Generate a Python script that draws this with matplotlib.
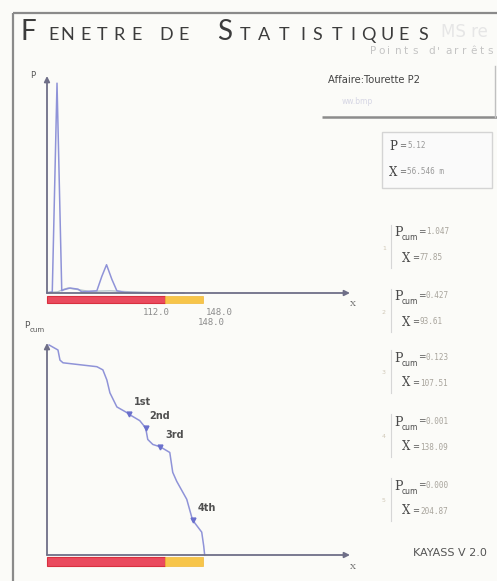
import matplotlib
matplotlib.use('Agg')
import matplotlib.pyplot as plt
from matplotlib.patches import Rectangle

# ---------------- data ----------------
# density curve P(X) (top chart)
p_x = [0, 5.0, 9.5, 14.0, 16.1, 21.8, 29.4, 33.1, 47.3, 52.0, 56.5, 61.5, 66.3, 73.9, 88.0, 112.0]
p_val = [0, 0.2, 38.0, 0.4, 0.6, 0.9, 0.7, 0.2, 0.4, 3.0, 5.12, 2.5, 0.4, 0.1, 0.05, 0]
# faint reference trace near the axis
ref_x = [0, 10, 15, 20, 30, 40, 60, 80, 100, 130]
ref_val = [0.1, 0.2, 0.6, 0.9, 0.6, 0.3, 0.4, 0.2, 0.1, 0.0]

# cumulative curve Pcum(X) in % (bottom chart, log scale)
pc_x = [2.0, 10.4, 12.3, 15.2, 47.3, 53.0, 56.8, 59.7, 66.3, 75.8, 77.85, 88.0, 93.61,
        95.6, 100.4, 107.51, 116.5, 119.3, 123.1, 132.6, 138.09, 146.8, 148.7, 149.6]
pc_val = [100, 72, 37, 31, 24, 19.5, 10, 4.3, 1.7, 1.17, 1.047, 0.69, 0.427,
          0.2, 0.144, 0.123, 0.085, 0.023, 0.0127, 0.0039, 0.001, 0.00045, 0.00018, 0.0001]

# quantile markers
q_labels = ["1st", "2nd", "3rd", "4th"]
q_x = [77.85, 93.61, 107.51, 138.09]
q_p = [1.047, 0.427, 0.123, 0.001]

# zones (red / yellow)
zone_red = (0.0, 112.0)
zone_yellow = (112.0, 148.0)

# side panel values
sel_p = "5.12"
sel_x = "56.546"
side_pcum = ["1.047", "0.427", "0.123", "0.001", "0.000"]
side_x = ["77.85", "93.61", "107.51", "138.09", "204.87"]

X_MAX = 287.5

# ---------------- figure ----------------
W, H = 497, 581
fig = plt.figure(figsize=(W / 100, H / 100), dpi=100)
fig.patch.set_facecolor('#fbfbf8')

bg = fig.add_axes([0, 0, 1, 1])
bg.set_xlim(0, W)
bg.set_ylim(H, 0)
bg.axis('off')
bg.set_zorder(0)

def fx(px):
    return px / W

def fy(py):
    return 1 - py / H

# window border
bg.plot([13, 13], [13, 581], color='#8a8a8a', lw=1.6, solid_capstyle='butt')
bg.plot([13, 497], [13, 13], color='#8a8a8a', lw=1.6, solid_capstyle='butt')

# title in small caps
title_font = 'Lato'
big = [('F', 28), ('S', 225)]
small = [('E', 54), ('N', 67), ('E', 86), ('T', 102), ('R', 119), ('E', 137),
         ('D', 166), ('E', 184),
         ('T', 245), ('A', 264), ('T', 284), ('I', 303), ('S', 317), ('T', 337),
         ('I', 353), ('Q', 368), ('U', 387), ('E', 404), ('S', 423)]
for ch, x in big:
    bg.text(x, 40, ch, fontsize=20, family=title_font, color='#3c3c3c',
            ha='center', va='baseline')
for ch, x in small:
    bg.text(x, 40, ch, fontsize=13, family=title_font, color='#3c3c3c',
            ha='center', va='baseline')

# ghost texts
bg.text(441, 37, "MS re", fontsize=12, color='#e6e6e6', ha='left', va='baseline')
for i, ch in enumerate("Points d'arrêts"):
    bg.text(370 + i * 8.4, 54, ch, fontsize=7.5, color='#c4c4c4', ha='left', va='baseline')

# Affaire box
bg.plot([322, 497], [117, 117], color='#8c8c8c', lw=1.8, solid_capstyle='butt')
bg.plot([495, 495], [66, 117], color='#c0c0c0', lw=1.0)
bg.text(328, 80, "Affaire:Tourette P2", fontsize=7.2, color='#444444',
        family=['Liberation Sans Narrow', 'DejaVu Sans'], ha='left', va='center')
bg.text(342, 101, "ww.bmp", fontsize=5.5, color='#d6d6e4', ha='left', va='center')

# selection box
bg.add_patch(Rectangle((382, 132), 110, 56, facecolor='#fafafa', edgecolor='#d4d4d4', lw=1))
bg.text(389, 146, "P", fontsize=8.5, color='#444444', family='DejaVu Serif', ha='left', va='center')
bg.text(399, 146, "=", fontsize=6, color='#666666', ha='left', va='center')
bg.text(407, 146, sel_p, fontsize=5.5, color='#999999', family='DejaVu Sans Mono', ha='left', va='center')
bg.text(389, 172, "X", fontsize=8.5, color='#444444', family='DejaVu Serif', ha='left', va='center')
bg.text(399, 172, "=", fontsize=6, color='#666666', ha='left', va='center')
bg.text(407, 172, sel_x + " m", fontsize=5.5, color='#999999', family='DejaVu Sans Mono', ha='left', va='center')

# quantile list
group_y = [233, 297, 358, 422, 486]
for i, (pv, xv, gy) in enumerate(zip(side_pcum, side_x, group_y)):
    bg.plot([391, 391], [gy - 8, gy + 35], color='#d6d6d6', lw=0.8)
    bg.text(384, gy + 15, str(i + 1), fontsize=4.5, color='#d0c8b8', ha='center', va='center')
    bg.text(394, gy, "P", fontsize=9, color='#4a4a4a', family='DejaVu Serif', ha='left', va='center')
    bg.text(402, gy + 5, "cum", fontsize=5.5, color='#4a4a4a', ha='left', va='center')
    bg.text(418, gy - 1, "=", fontsize=6.5, color='#555555', ha='left', va='center')
    bg.text(426, gy - 1, pv, fontsize=5.5, color='#a8a49c', family='DejaVu Sans Mono',
            ha='left', va='center')
    bg.text(402, gy + 25, "X", fontsize=8.5, color='#4a4a4a', family='DejaVu Serif', ha='left', va='center')
    bg.text(412, gy + 25, "=", fontsize=6, color='#555555', ha='left', va='center')
    bg.text(420, gy + 25, xv, fontsize=5.5, color='#a8a49c', family='DejaVu Sans Mono',
            ha='left', va='center')

bg.text(450, 553, "KAYASS V 2.0", fontsize=8, color='#555555',
        family=['Liberation Sans Narrow', 'DejaVu Sans'], ha='center', va='center')

AX_COL = '#6f6f88'
CURVE = '#8f93d8'

def setup_axis(ax):
    ax.set_facecolor('none')
    for s in ax.spines.values():
        s.set_visible(False)
    ax.set_xticks([])
    ax.set_yticks([])
    ax.minorticks_off()
    ax.tick_params(which='both', length=0, labelleft=False, labelbottom=False)
    ax.annotate('', xy=(1, 0), xytext=(0, 0), xycoords='axes fraction',
                arrowprops=dict(arrowstyle='-|>', color=AX_COL, lw=1.3,
                                mutation_scale=8, shrinkA=0, shrinkB=0))
    ax.annotate('', xy=(0, 1), xytext=(0, 0), xycoords='axes fraction',
                arrowprops=dict(arrowstyle='-|>', color=AX_COL, lw=1.3,
                                mutation_scale=8, shrinkA=0, shrinkB=0))

def zones(ax, y0, y1):
    tr = ax.get_xaxis_transform()
    ax.add_patch(Rectangle((zone_red[0], y0), zone_red[1] - zone_red[0], y1 - y0,
                           transform=tr, clip_on=False, facecolor='#ea4a5e',
                           edgecolor='#d8303f', lw=0.8))
    ax.add_patch(Rectangle((zone_yellow[0], y0), zone_yellow[1] - zone_yellow[0], y1 - y0,
                           transform=tr, clip_on=False, facecolor='#f7c54a',
                           edgecolor='#f0b838', lw=0.5))

# ---------------- top chart ----------------
ax1 = fig.add_axes([fx(47), fy(293), fx(350) - fx(47), fy(76) - fy(293)])
ax1.set_zorder(2)
ax1.set_xlim(0, X_MAX)
ax1.set_ylim(0, 39.3)
setup_axis(ax1)
ax1.plot(ref_x, ref_val, color='#b4c4cc', lw=1.0, clip_on=False)
ax1.plot(p_x, p_val, color=CURVE, lw=1.1, clip_on=False)
zones(ax1, -3 / 217, -10 / 217)
tr1 = ax1.get_xaxis_transform()
ax1.annotate("112.0", xy=(112.0, 0), xycoords=tr1, xytext=(-6, -14), textcoords='offset points',
             fontsize=6.5, family='DejaVu Sans Mono', color='#8c8c8c', ha='center', va='center',
             annotation_clip=False)
ax1.annotate("148.0", xy=(148.0, 0), xycoords=tr1, xytext=(12, -14), textcoords='offset points',
             fontsize=6.5, family='DejaVu Sans Mono', color='#8c8c8c', ha='center', va='center',
             annotation_clip=False)
ax1.annotate("148.0", xy=(148.0, 0), xycoords=tr1, xytext=(6, -21), textcoords='offset points',
             fontsize=6.5, family='DejaVu Sans Mono', color='#8c8c8c', ha='center', va='center',
             annotation_clip=False)
bg.text(33, 75, "P", fontsize=6, color='#555555', ha='center', va='center')
bg.text(353, 304, "X", fontsize=6, color='#666666', family='DejaVu Serif', ha='center', va='center')

# ---------------- bottom chart ----------------
ax2 = fig.add_axes([fx(47), fy(555), fx(350) - fx(47), fy(343) - fy(555)])
ax2.set_zorder(2)
ax2.set_yscale('log')
ax2.set_xlim(0, X_MAX)
ax2.set_ylim(1e-4, 10 ** 2.057)
setup_axis(ax2)
ax2.plot(pc_x, pc_val, color=CURVE, lw=1.1, clip_on=False)
ax2.plot(q_x, q_p, linestyle='none', marker='v', markersize=3.5, color='#6a70cc')
for lab, xv, pv in zip(q_labels, q_x, q_p):
    ax2.annotate(lab, xy=(xv, pv), xytext=(10, 8.5), textcoords='offset points',
                 fontsize=7, fontweight='bold', color='#505050',
                 family=['Liberation Sans Narrow', 'DejaVu Sans'],
                 ha='center', va='center')
zones(ax2, -2 / 212, -11 / 212)
bg.text(24, 326, "P", fontsize=6.5, color='#555555', ha='left', va='center')
bg.text(30, 330, "cum", fontsize=5, color='#555555', ha='left', va='center')
bg.text(353, 567, "X", fontsize=6, color='#666666', family='DejaVu Serif', ha='center', va='center')

fig.savefig('out.png', dpi=100, facecolor=fig.get_facecolor())
